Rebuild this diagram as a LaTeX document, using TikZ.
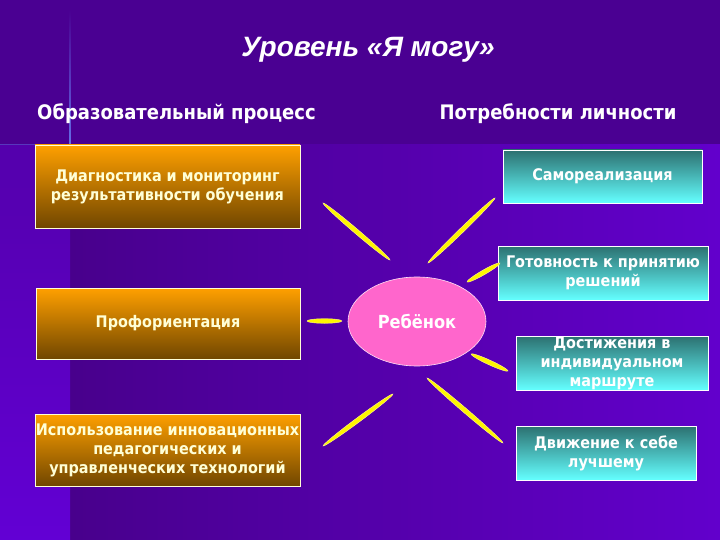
\documentclass[tikz,border=0pt]{standalone}
\usepackage{fontspec}
\setmainfont{DejaVu Sans Condensed}
\newfontfamily\titlefont{Liberation Sans}
\usetikzlibrary{calc,shapes.geometric}
\definecolor{bgtop}{RGB}{74,0,146}
\definecolor{bgmainl}{RGB}{72,0,140}
\definecolor{bgmainr}{RGB}{98,0,204}
\definecolor{bgleftt}{RGB}{84,0,172}
\definecolor{bgleftb}{RGB}{98,0,212}
\definecolor{seam}{RGB}{100,110,230}
\definecolor{ortop}{RGB}{255,160,0}
\definecolor{orbot}{RGB}{112,70,0}
\definecolor{cytop}{RGB}{44,112,112}
\definecolor{cybot}{RGB}{100,255,255}
\definecolor{cream}{RGB}{255,255,214}
\definecolor{pinkc}{RGB}{255,102,204}
\definecolor{rayc}{RGB}{255,245,0}
\tikzset{
  orbox/.style={rectangle,draw=cream,line width=0.8pt,top color=ortop,bottom color=orbot,text=cream,align=center,inner sep=0pt,font=\bfseries\fontsize{16}{19}\selectfont},
  cybox/.style={rectangle,draw=white,line width=0.8pt,top color=cytop,bottom color=cybot,text=white,align=center,inner sep=0pt,font=\bfseries\fontsize{16}{19}\selectfont},
  head/.style={text=white,font=\bfseries\fontsize{20}{24}\selectfont},
  ray/.style={to path={let \p1=($(\tikztotarget)-(\tikztostart)$) in
    -- (\tikztotarget) node[midway,sloped,ellipse,fill=rayc,draw=white!55!rayc,line width=0.4pt,inner sep=0pt,
      minimum height=4.6pt,minimum width={veclen(\x1,\y1)}]{}}},
}
\begin{document}
\begin{tikzpicture}[x=1pt,y=-1pt]
  \useasboundingbox (0,0) rectangle (720,540);
  % background
  \fill[bgtop] (0,0) rectangle (720,540);
  \shade[left color=bgmainl,right color=bgmainr] (70,145) rectangle (720,540);
  \shade[top color=bgleftt,bottom color=bgleftb] (0,145) rectangle (70,540);
  \shade[top color=bgtop,bottom color=seam] (69.6,10) rectangle (70.6,145);
  \draw[seam!50!bgtop,line width=0.6pt] (0,144) -- (70,144);
  % titles
  \node[text=white,font=\titlefont\bfseries\itshape\fontsize{28}{30}\selectfont](title) at (368,50){Уровень «Я могу»};
  \node[head](edu) at (176.5,114){Образовательный процесс};
  \node[head](need) at (558,114){Потребности личности};
  % left column
  \node[orbox,minimum width=265,minimum height=83](diag) at (167.5,186.5){Диагностика и мониторинг\\результативности обучения};
  \node[orbox,minimum width=264,minimum height=71](prof) at (168,323.5){Профориентация};
  \node[orbox,minimum width=265,minimum height=72](tech) at (167.5,450){Использование инновационных\\педагогических и\\управленческих технологий};
  % right column
  \node[cybox,minimum width=199,minimum height=53](self) at (602.5,176.5){Самореализация};
  \node[cybox,minimum width=210,minimum height=54](ready) at (603,273){Готовность к принятию\\решений};
  \node[cybox,minimum width=192,minimum height=54](achv) at (612,363){Достижения в\\индивидуальном\\маршруте};
  \node[cybox,minimum width=180,minimum height=54](move) at (606,453){Движение к себе\\лучшему};
  % centre
  \node[ellipse,draw=white!80!pinkc,line width=0.6pt,fill=pinkc,minimum width=138,minimum height=89,text=white,font=\bfseries\fontsize{18}{20}\selectfont](child) at (417,321.5){Ребёнок};
  % rays
  \coordinate (l1) at (307,321);  \coordinate (l2) at (342,321);
  \coordinate (ul1) at (323,203); \coordinate (ul2) at (390,260);
  \coordinate (ur1) at (495,198); \coordinate (ur2) at (428,263);
  \coordinate (ra1) at (500,263); \coordinate (ra2) at (467,282);
  \coordinate (rb1) at (471,354); \coordinate (rb2) at (508,371);
  \coordinate (ll1) at (393,394); \coordinate (ll2) at (323,446);
  \coordinate (lr1) at (427,378); \coordinate (lr2) at (503,443);
  \path[ray] (l1) to (l2);   \path[ray] (ul1) to (ul2);
  \path[ray] (ur1) to (ur2); \path[ray] (ra1) to (ra2);
  \path[ray] (rb1) to (rb2); \path[ray] (ll1) to (ll2);
  \path[ray] (lr1) to (lr2);
\end{tikzpicture}
\end{document}
